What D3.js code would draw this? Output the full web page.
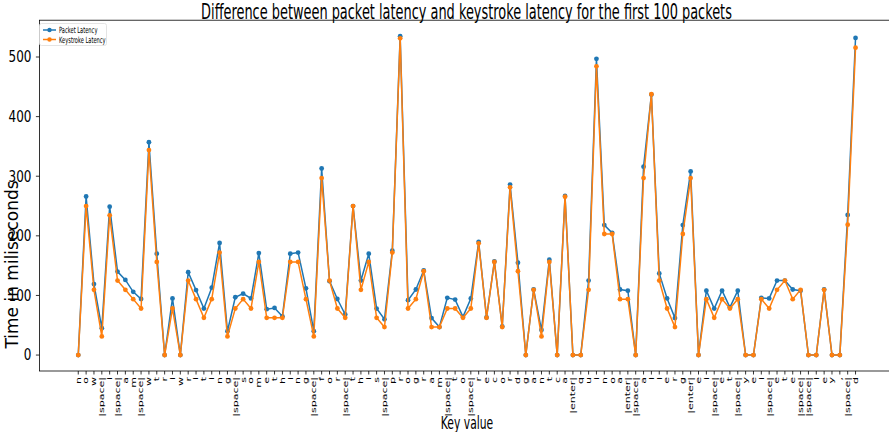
<!DOCTYPE html>
<html>
<head>
<meta charset="utf-8">
<script src="https://cdn.jsdelivr.net/npm/d3@7/dist/d3.min.js"></script>
<style>
  html, body { margin: 0; padding: 0; background: #fff; }
  body { position: relative; width: 889px; height: 432px; overflow: hidden; }
  svg { display: block; font-family: "DejaVu Sans", sans-serif; }
  .y-title { position: absolute; font-family: "DejaVu Sans", sans-serif; font-size: 17px;
             line-height: 17px; white-space: nowrap; color: #000; transform: rotate(-90deg);
             transform-origin: 50% 50%; }
</style>
</head>
<body>
<svg id="chart" width="889" height="432"></svg>
<script>
// Key pressed for each of the first 100 packets
const keys = ["n","o","w","|space|","i","|space|","a","m","|space|","w",
  "t","r","i","w","r","i","t","i","n","g",
  "|space|","s","o","m","e","t","h","i","n","g",
  "|space|","f","o","r","|space|","t","h","i","s","|space|",
  "p","r","o","g","r","a","m","|space|","t","o",
  "|space|","r","e","c","o","r","d","g","a","n",
  "t","c","a","|enter|","q","u","i","n","o","a",
  "|enter|","|space|","a","l","l","e","r","g","|enter|","e",
  "i","|space|","e","t","|space|","y","e","i","|space|","e",
  "t","e","|space|","|space|","l","e","y",",","|space|","d"];

// Latency of each packet (ms)
const packetLatency = [0,266,119,45,249,140,126,106,94,357,
  170,0,95,0,139,109,78,113,188,40,
  97,103,95,171,77,79,65,170,172,112,
  40,313,124,94,68,250,125,170,78,60,
  175,535,92,110,142,62,47,96,93,64,
  95,190,63,157,48,286,155,0,110,42,
  160,0,267,0,0,125,497,218,205,110,
  108,0,316,437,137,95,62,218,308,0,
  108,78,108,80,108,0,0,96,95,125,
  125,110,108,0,0,110,0,0,235,532];

// Latency between keystrokes (ms)
const keystrokeLatency = [0,250,109.4,31.3,234.4,125,109.4,93.8,78.1,343.8,
  156.3,0,78.1,0,125,93.8,62.5,93.8,171.9,31.3,
  78.1,93.8,78.1,156.3,62.5,62.5,62.5,156.3,156.3,93.8,
  31.3,296.9,125,78.1,62.5,250,109.4,156.3,62.5,46.9,
  171.9,531.3,78.1,93.8,140.6,46.9,46.9,78.1,78.1,62.5,
  78.1,187.5,62.5,156.3,46.9,281.3,140.6,0,109.4,31.3,
  156.3,0,265.6,0,0,109.4,484.4,203.1,203.1,93.8,
  93.8,0,296.9,437.5,125,78.1,46.9,203.1,296.9,0,
  93.8,62.5,93.8,78.1,93.8,0,0,93.8,78.1,109.4,
  125,93.8,109.4,0,0,109.4,0,0,218.8,515.6];

const yTicks = [0, 100, 200, 300, 400, 500];

const seriesNames = ["Packet Latency", "Keystroke Latency"];
const seriesColors = ["#1f77b4", "#ff7f0e"];

const svg = d3.select("#chart");
const SX = 0.6; // horizontal squeeze of the lettering

const plot = { left: 39.4, right: 894.4, top: 20.2, bottom: 371 };

const n = keys.length;
const xPad = (n - 1) * 0.05;
const x = d3.scaleLinear().domain([-xPad, n - 1 + xPad]).range([plot.left, plot.right]);

const allVals = packetLatency.concat(keystrokeLatency);
const yMin = d3.min(allVals), yMax = d3.max(allVals);
const yPad = (yMax - yMin) * 0.05;
const y = d3.scaleLinear().domain([yMin - yPad, yMax + yPad]).range([plot.bottom, plot.top]);

// axes frame
svg.append("rect")
  .attr("x", plot.left).attr("y", plot.top)
  .attr("width", plot.right - plot.left).attr("height", plot.bottom - plot.top)
  .attr("fill", "none").attr("stroke", "#000").attr("stroke-width", 0.8);

// y axis
const yAxis = svg.append("g");
yTicks.forEach(v => {
  const yy = y(v);
  yAxis.append("line").attr("x1", plot.left - 3.5).attr("x2", plot.left)
    .attr("y1", yy).attr("y2", yy).attr("stroke", "#000").attr("stroke-width", 0.8);
  yAxis.append("text")
    .attr("transform", `translate(${plot.left - 8},${yy}) scale(0.8,1)`)
    .attr("text-anchor", "end").attr("dy", "0.36em")
    .attr("font-size", 15).text(v);
});

// x axis: labels run downward from each tick, squeezed across their height
const xAxis = svg.append("g");
keys.forEach((k, i) => {
  const xx = x(i);
  xAxis.append("line").attr("x1", xx).attr("x2", xx)
    .attr("y1", plot.bottom).attr("y2", plot.bottom + 3.5)
    .attr("stroke", "#000").attr("stroke-width", 0.8);
  xAxis.append("text")
    .attr("transform", `translate(${xx},${plot.bottom + 6}) rotate(-90) scale(1,${SX})`)
    .attr("text-anchor", "end").attr("dy", "0.36em")
    .attr("font-size", 11).text(k);
});

// chart title and x axis title
svg.append("text")
  .attr("transform", "translate(466.5,19) scale(0.615,1)")
  .attr("text-anchor", "middle").attr("font-size", 21)
  .text("Difference between packet latency and keystroke latency for the first 100 packets");

svg.append("text")
  .attr("transform", `translate(467,429) scale(${SX},1)`)
  .attr("text-anchor", "middle").attr("font-size", 18)
  .text("Key value");

// y axis title as a rotated HTML label, centred on (12, 264)
const yTitle = d3.select("body").append("div")
  .attr("class", "y-title")
  .text("Time in miliseconds");
const yTitleNode = yTitle.node();
const yw = yTitleNode.offsetWidth, yh = yTitleNode.offsetHeight;
yTitle.style("left", (12 - yw / 2) + "px").style("top", (264 - yh / 2) + "px");

// series lines and markers
const line = d3.line().x((d, i) => x(i)).y(d => y(d));
[packetLatency, keystrokeLatency].forEach((vals, s) => {
  const g = svg.append("g");
  g.append("path").datum(vals).attr("d", line)
    .attr("fill", "none").attr("stroke", seriesColors[s]).attr("stroke-width", 1.5);
  g.selectAll("circle").data(vals).join("circle")
    .attr("cx", (d, i) => x(i)).attr("cy", d => y(d)).attr("r", 2.4)
    .attr("fill", seriesColors[s]);
});

// legend
const lg = svg.append("g");
lg.append("rect").attr("x", 39.5).attr("y", 23.5).attr("width", 67).attr("height", 22)
  .attr("rx", 2).attr("fill", "#fff").attr("fill-opacity", 0.8)
  .attr("stroke", "#ddd").attr("stroke-width", 0.8);
seriesNames.forEach((name, s) => {
  const yy = 30 + s * 9.5;
  lg.append("line").attr("x1", 43).attr("x2", 56).attr("y1", yy).attr("y2", yy)
    .attr("stroke", seriesColors[s]).attr("stroke-width", 1.5);
  lg.append("circle").attr("cx", 49.5).attr("cy", yy).attr("r", 2.2).attr("fill", seriesColors[s]);
  lg.append("text")
    .attr("transform", `translate(59,${yy}) scale(${SX},1)`)
    .attr("dy", "0.36em").attr("font-size", 8.5).text(name);
});
</script>
</body>
</html>
